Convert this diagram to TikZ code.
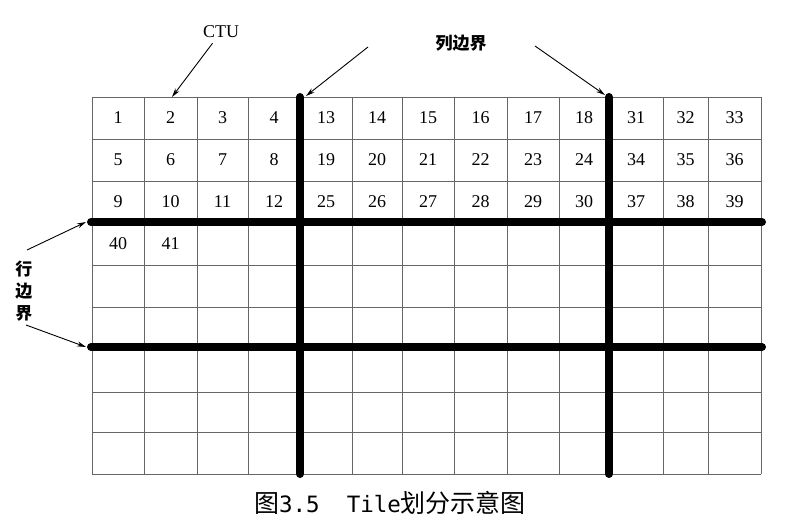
\documentclass[tikz,border=0pt]{standalone}
\usepackage{fontspec}
\setmainfont{Liberation Serif}
\newfontfamily\cjk{Noto Sans CJK SC}
\newfontfamily\capmono{DejaVu Sans Mono}
\usetikzlibrary{arrows.meta}
% borders of the CTU columns and rows
\def\colx{{92,144,197,248,300,352,402,454,507,559,609,663,708,761}}
\def\rowy{{97,139,181,222,265,307,347,392,432,474}}
\begin{document}
\begin{tikzpicture}[
x=1pt,y=-1pt,
gridline/.style={draw=black!60,line width=0.9pt},
tileline/.style={
  line width=8pt,
  line cap=round
  },
ctunum/.style={font=\fontsize{18}{18}\selectfont,inner sep=0pt},
mylabel/.style={font=\cjk\bfseries\fontsize{17}{22}\selectfont,align=center},
pointer/.style={-{Stealth[length=9pt,width=5pt]},line width=0.9pt}
]
\useasboundingbox (0,0) rectangle (785,526);
% CTU grid
\foreach \k in {0,...,13}
  {\pgfmathsetmacro\xa{\colx[\k]}
   \draw[gridline] (\xa,97) -- (\xa,474);}
\foreach \k in {0,...,9}
  {\pgfmathsetmacro\ya{\rowy[\k]}
   \draw[gridline] (92,\ya) -- (761,\ya);}
% CTU numbers, tile by tile
\foreach \cz/\nc/\first in {0/4/1,4/6/13,10/3/31}
  \foreach \row in {0,1,2}
    \foreach \k in {1,...,\nc}
    {\pgfmathtruncatemacro\idx{\first+\row*\nc+\k-1}
     \pgfmathtruncatemacro\ca{\cz+\k-1}
     \pgfmathtruncatemacro\cb{\cz+\k}
     \pgfmathtruncatemacro\rb{\row+1}
     \pgfmathsetmacro\xl{\colx[\ca]}
     \pgfmathsetmacro\xr{\colx[\cb]}
     \pgfmathsetmacro\yt{\rowy[\row]}
     \pgfmathsetmacro\yb{\rowy[\rb]}
     \node[ctunum] (c\idx) at ({(\xl+\xr)/2},{(\yt+\yb)/2}) {\idx};}
\foreach \k/\cb/\idx in {0/1/40,1/2/41}
  {\pgfmathsetmacro\xl{\colx[\k]}
   \pgfmathsetmacro\xr{\colx[\cb]}
   \node[ctunum] (c\idx) at ({(\xl+\xr)/2},243.5) {\idx};}
% tile boundaries
\coordinate (v1t) at (300,97);
\coordinate (v1b) at (300,474);
\coordinate (v2t) at (609,97);
\coordinate (v2b) at (609,474);
\coordinate (h1l) at (91,222);
\coordinate (h1r) at (762,222);
\coordinate (h2l) at (91,347);
\coordinate (h2r) at (762,347);
\draw[tileline] (v1t) -- (v1b);
\draw[tileline] (v2t) -- (v2b);
\draw[tileline] (h1l) -- (h1r);
\draw[tileline] (h2l) -- (h2r);
% labels
\node[font=\fontsize{18}{18}\selectfont] (ctu) at (221,32) {CTU};
\node[mylabel] (lie) at (461,43) {列边界};
\node[mylabel] (hang) at (24,291) {行\\边\\界};
\coordinate (ctutip) at (172,97);
\coordinate (lie1) at (368,47);
\coordinate (lie2) at (535,46);
\coordinate (hang1) at (27,250);
\coordinate (hang2) at (26,325);
\draw[pointer,shorten <=2pt] (ctu) -- (ctutip);
\draw[pointer] (lie1) -- ([xshift=6pt,yshift=1pt]v1t);
\draw[pointer] (lie2) -- ([xshift=-4pt,yshift=2pt]v2t);
\draw[pointer] (hang1) -- ([xshift=-5pt]h1l);
\draw[pointer] (hang2) -- ([xshift=-5pt]h2l);
% caption
\node[font=\cjk\fontsize{25}{25}\selectfont] (caption) at (390,503)
  {图{\capmono\fontsize{22.5}{22.5}\selectfont 3.5~~Tile}划分示意图};
\end{tikzpicture}
\end{document}
